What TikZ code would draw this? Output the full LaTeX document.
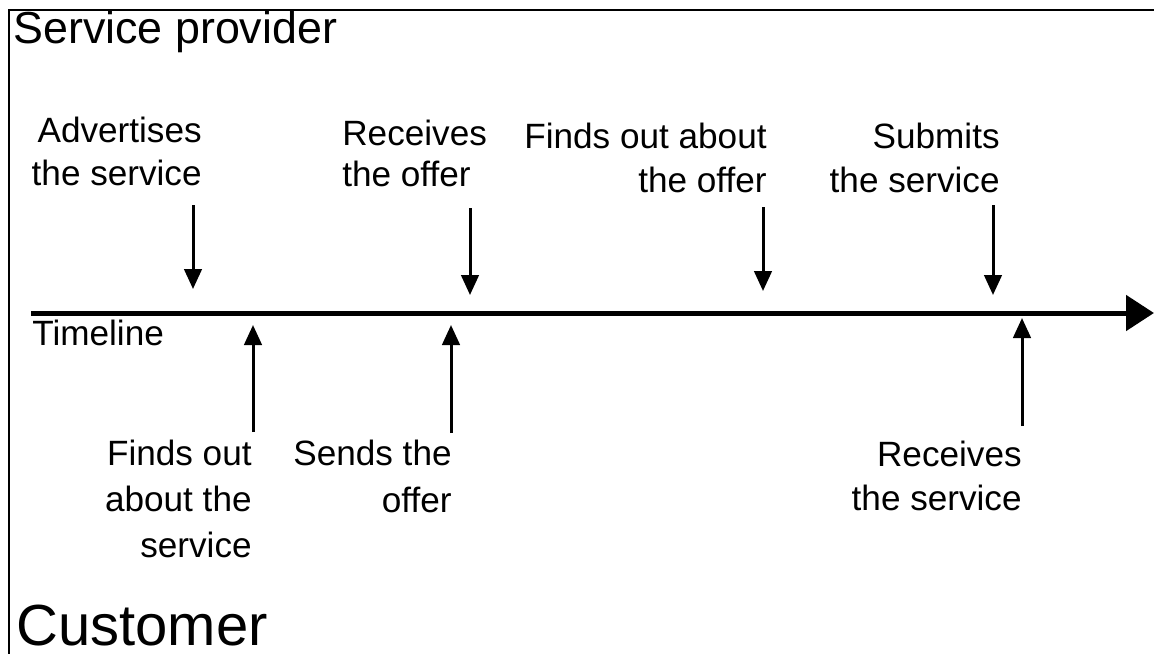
\documentclass[tikz,border=0pt]{standalone}
\usepackage{fontspec}
\setmainfont{Liberation Sans}
\usepackage{tikz}
\usetikzlibrary{arrows.meta, positioning}

\begin{document}
\begin{tikzpicture}[
    x=0.2mm, y=-0.2mm,
    lbl/.style={inner sep=0pt, font=\fontsize{20}{25}\selectfont},
    side/.style={inner sep=0pt, font=\fontsize{25.5}{30}\selectfont},
    timeline/.style={line width=1mm, -{Triangle[length=5.6mm, width=7mm]}},
    event/.style={line width=0.6mm, -{Triangle[length=4mm, width=3.5mm]}}
]
    \useasboundingbox (0,0) rectangle (1154,654);

    % Frame
    \draw[line width=0.55mm] (1154,10) -- (9,10) -- (9,654);

    % Service provider (base = last line)
    \node[side, anchor=base west] (sp) at (13,43) {Service provider};

    \node[lbl, font=\fontsize{20}{24}\selectfont, align=right, anchor=base east] (adv) at (202,185) {Advertises\\the service};
    \node[lbl, font=\fontsize{20}{23}\selectfont, align=left, anchor=base west] (recoff) at (342,186) {Receives\\the offer};
    \node[lbl, align=right, anchor=base east] (findoff) at (767,192) {Finds out about\\the offer};
    \node[lbl, align=right, anchor=base east] (sub) at (1000,192) {Submits\\the service};

    \coordinate (adv1) at (193,205);  \coordinate (adv2) at (193,289);
    \coordinate (rec1) at (470,208);  \coordinate (rec2) at (470,295);
    \coordinate (fnd1) at (763,207);  \coordinate (fnd2) at (763,291);
    \coordinate (sub1) at (993,205);  \coordinate (sub2) at (993,295);

    \draw[event] (adv1) -- (adv2);
    \draw[event] (rec1) -- (rec2);
    \draw[event] (fnd1) -- (fnd2);
    \draw[event] (sub1) -- (sub2);

    % Timeline
    \coordinate (tl0) at (31,313);
    \coordinate (tl1) at (1154,313);
    \draw[timeline] (tl0) -- (tl1);
    \node[lbl, anchor=base west] (tl) at (32,345) {Timeline};

    % Customer
    \coordinate (fsv1) at (253,432);  \coordinate (fsv2) at (253,325);
    \coordinate (snd1) at (451,433);  \coordinate (snd2) at (451,325);
    \coordinate (rsv1) at (1022,426); \coordinate (rsv2) at (1022,318);

    \draw[event] (fsv1) -- (fsv2);
    \draw[event] (snd1) -- (snd2);
    \draw[event] (rsv1) -- (rsv2);

    \node[lbl, font=\fontsize{20}{26}\selectfont, align=right, anchor=base east] (findsrv) at (252,557) {Finds out\\about the\\service};
    \node[lbl, font=\fontsize{20}{26.5}\selectfont, align=right, anchor=base east] (sendoff) at (452,512) {Sends the\\offer};
    \node[lbl, font=\fontsize{20}{24.5}\selectfont, align=right, anchor=base east] (recsrv) at (1022,510) {Receives\\the service};

    \node[inner sep=0pt, font=\fontsize{33}{38}\selectfont, anchor=base west] (cust) at (16,645) {Customer};
\end{tikzpicture}
\end{document}
